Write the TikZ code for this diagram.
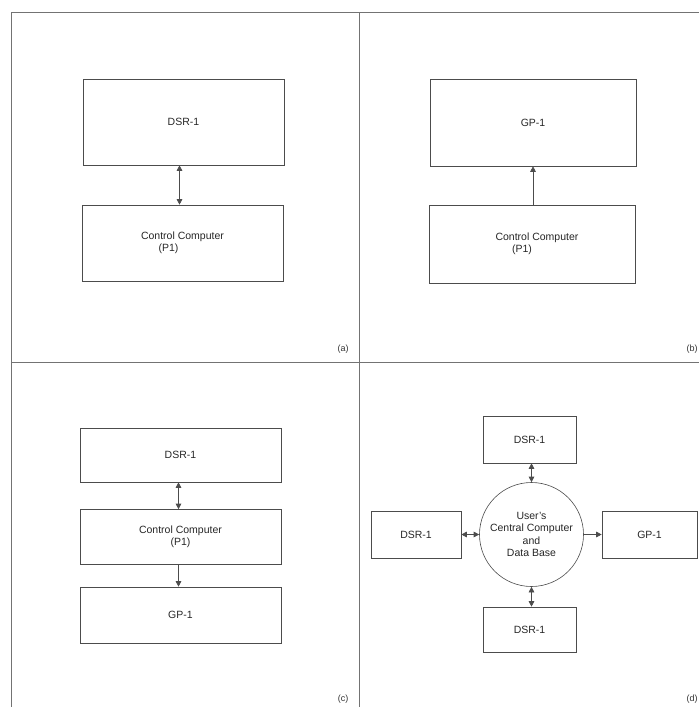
\documentclass[tikz,border=0pt]{standalone}
\usepackage{fontspec}
\setmainfont{Liberation Sans}
\usetikzlibrary{arrows.meta}
\begin{document}
\begin{tikzpicture}[x=1pt,y=-1pt,
  ln/.style={draw=black!70,line width=0.6pt},
  frameline/.style={draw=black!55,line width=0.8pt},
  blk/.style={ln,rectangle,inner sep=0pt,align=center,text=black!85,
    font=\fontsize{10.5}{12.5}\selectfont},
  hub/.style={ln,circle,inner sep=0pt,minimum size=104pt,align=center,text=black!85,
    font=\fontsize{10.5}{12.5}\selectfont},
  tag/.style={font=\fontsize{9}{11}\selectfont,text=black!80,inner sep=0pt},
  conn/.style={ln,>={Triangle[length=5.5pt,width=5.5pt]}}
]
\useasboundingbox (0,0) rectangle (699,707);
% frame
\coordinate (fTL) at (11,12);
\coordinate (fTR) at (699,12);
\coordinate (fBL) at (11,707);
\coordinate (vT) at (359,12);
\coordinate (vB) at (359,707);
\coordinate (hL) at (11,362);
\coordinate (hR) at (699,362);
\draw[frameline] (fBL) -- (fTL) -- (fTR);
\draw[frameline] (vT) -- (vB);
\draw[frameline] (hL) -- (hR);

% (a)
\node[blk,minimum width=201pt,minimum height=86pt] (dsrA) at (183.5,122) {DSR-1};
\node[blk,minimum width=201pt,minimum height=76pt] (ccA) at (182.5,243) {Control Computer\\(P1)\hspace*{28pt}};
\draw[conn,<->] ([xshift=-4pt]dsrA.south) -- ([xshift=-4pt]dsrA.south |- ccA.north);
\node[tag] (la) at (343,349) {(a)};

% (b)
\node[blk,minimum width=206pt,minimum height=87pt] (gpB) at (533,122.5) {GP-1};
\node[blk,minimum width=206pt,minimum height=78pt] (ccB) at (532,244) {\hspace*{10pt}Control Computer\\(P1)\hspace*{20pt}};
\draw[conn,->] (gpB.south |- ccB.north) -- (gpB.south);
\node[tag] (lb) at (692,349) {(b)};

% (c)
\node[blk,minimum width=201pt,minimum height=54pt] (dsrC) at (180.5,455) {DSR-1};
\node[blk,minimum width=201pt,minimum height=55pt] (ccC) at (180.5,537) {Control Computer\\(P1)};
\node[blk,minimum width=201pt,minimum height=56pt] (gpC) at (180.5,615) {GP-1};
\draw[conn,<->] ([xshift=-2pt]dsrC.south) -- ([xshift=-2pt]ccC.north);
\draw[conn,->] ([xshift=-2pt]ccC.south) -- ([xshift=-2pt]gpC.north);
\node[tag] (lc) at (343,699) {(c)};

% (d)
\node[hub] (hubD) at (531.5,534.5) {User's\\Central Computer\\and\\Data Base};
\node[blk,minimum width=93pt,minimum height=47pt] (dsrT) at (529.5,439.5) {DSR-1};
\node[blk,minimum width=90pt,minimum height=47pt] (dsrL) at (416,534.5) {DSR-1};
\node[blk,minimum width=95pt,minimum height=47pt] (gpR) at (649.5,534.5) {GP-1};
\node[blk,minimum width=93pt,minimum height=45pt] (dsrB) at (529.5,629.5) {DSR-1};
\draw[conn,<->] (dsrT.south -| hubD.north) -- (hubD.north);
\draw[conn,<->] (hubD.south) -- (dsrB.north -| hubD.south);
\draw[conn,<->] (dsrL.east) -- (hubD.west);
\draw[conn,->] (hubD.east) -- (gpR.west);
\node[tag] (ld) at (692,699) {(d)};
\end{tikzpicture}
\end{document}
